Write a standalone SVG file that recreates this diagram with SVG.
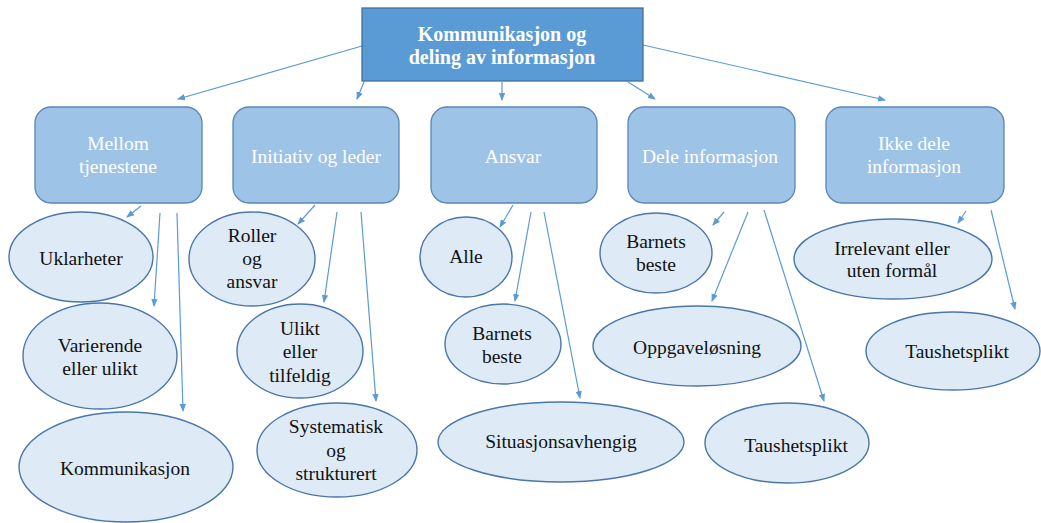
<svg xmlns="http://www.w3.org/2000/svg" width="1041" height="523" viewBox="0 0 1041 523" font-family="'Liberation Serif', 'DejaVu Serif', serif">
  <style>
    .top { fill: #5b9bd5; stroke: #41719c; stroke-width: 1.3; }
    .cat { fill: #9dc3e6; stroke: #5a86b6; stroke-width: 1.3; }
    .leaf { fill: #deebf7; stroke: #4a76a8; stroke-width: 1.4; }
    .link { stroke: #5b9bd5; stroke-width: 1.2; fill: none; marker-end: url(#arrow); }
    text { font-family: "Liberation Serif", "DejaVu Serif", serif; font-size: 19.5px; text-anchor: middle; }
    .title { fill: #ffffff; font-weight: bold; font-size: 20px; }
    .catText { fill: #ffffff; }
    .leafText { fill: #111111; }
  </style>
  <defs>
    <marker id="arrow" markerUnits="userSpaceOnUse" markerWidth="8" markerHeight="8" viewBox="0 0 8 8" refX="7" refY="4" orient="auto">
      <path d="M0,0.8 L8,4 L0,7.2 Z" fill="#5b9bd5"/>
    </marker>
  </defs>

  <rect width="1041" height="523" fill="#ffffff"/>

  <!-- connectors -->
  <g id="connectors">
    <line class="link" x1="362" y1="46" x2="178" y2="99"/>
    <line class="link" x1="364" y1="82" x2="357" y2="99"/>
    <line class="link" x1="502" y1="82" x2="502" y2="100"/>
    <line class="link" x1="628" y1="82" x2="655" y2="99"/>
    <line class="link" x1="643" y1="45" x2="885" y2="100"/>

    <line class="link" x1="141" y1="206" x2="127" y2="217"/>
    <line class="link" x1="160" y1="213" x2="154" y2="306"/>
    <line class="link" x1="177" y1="213" x2="183" y2="411"/>

    <line class="link" x1="315" y1="205" x2="298" y2="224"/>
    <line class="link" x1="337" y1="212" x2="324" y2="302"/>
    <line class="link" x1="361" y1="212" x2="376" y2="401"/>

    <line class="link" x1="513" y1="205" x2="500" y2="227"/>
    <line class="link" x1="531" y1="212" x2="515" y2="301"/>
    <line class="link" x1="544" y1="212" x2="580" y2="398"/>

    <line class="link" x1="724" y1="212" x2="713" y2="225"/>
    <line class="link" x1="748" y1="212" x2="712" y2="301"/>
    <line class="link" x1="764" y1="210" x2="824" y2="401"/>

    <line class="link" x1="966" y1="211" x2="958" y2="223"/>
    <line class="link" x1="991" y1="210" x2="1015" y2="309"/>
  </g>

  <!-- root -->
  <g id="root">
    <rect class="top" x="362" y="8" width="281" height="73"/>
    <text class="title" x="502" y="41">Kommunikasjon og</text>
    <text class="title" x="502" y="64">deling av informasjon</text>
  </g>

  <!-- categories -->
  <g id="cat-mellom">
    <rect class="cat" x="35" y="107" width="167" height="96" rx="16"/>
    <text class="catText" x="118" y="150">Mellom</text>
    <text class="catText" x="118" y="173">tjenestene</text>
  </g>
  <g id="cat-initiativ">
    <rect class="cat" x="233" y="107" width="166" height="96" rx="16"/>
    <text class="catText" x="316" y="163">Initiativ og leder</text>
  </g>
  <g id="cat-ansvar">
    <rect class="cat" x="431" y="107" width="166" height="96" rx="16"/>
    <text class="catText" x="513" y="163">Ansvar</text>
  </g>
  <g id="cat-dele">
    <rect class="cat" x="628" y="107" width="167" height="96" rx="16"/>
    <text class="catText" x="710" y="163">Dele informasjon</text>
  </g>
  <g id="cat-ikke-dele">
    <rect class="cat" x="826" y="107" width="178" height="96" rx="16"/>
    <text class="catText" x="914" y="150">Ikke dele</text>
    <text class="catText" x="914" y="173">informasjon</text>
  </g>

  <!-- leaves: Mellom tjenestene -->
  <g id="leaf-uklarheter">
    <ellipse class="leaf" cx="81" cy="257" rx="72" ry="45"/>
    <text class="leafText" x="81" y="265">Uklarheter</text>
  </g>
  <g id="leaf-varierende">
    <ellipse class="leaf" cx="100" cy="356" rx="77" ry="53"/>
    <text class="leafText" x="100" y="352">Varierende</text>
    <text class="leafText" x="100" y="375">eller ulikt</text>
  </g>
  <g id="leaf-kommunikasjon">
    <ellipse class="leaf" cx="126" cy="467" rx="107" ry="55"/>
    <text class="leafText" x="125" y="475">Kommunikasjon</text>
  </g>

  <!-- leaves: Initiativ og leder -->
  <g id="leaf-roller">
    <ellipse class="leaf" cx="252" cy="259" rx="63" ry="47"/>
    <text class="leafText" x="252" y="242">Roller</text>
    <text class="leafText" x="252" y="265">og</text>
    <text class="leafText" x="252" y="288">ansvar</text>
  </g>
  <g id="leaf-ulikt">
    <ellipse class="leaf" cx="300" cy="351" rx="63" ry="47"/>
    <text class="leafText" x="300" y="335">Ulikt</text>
    <text class="leafText" x="300" y="358">eller</text>
    <text class="leafText" x="300" y="382">tilfeldig</text>
  </g>
  <g id="leaf-systematisk">
    <ellipse class="leaf" cx="337" cy="450" rx="80" ry="47"/>
    <text class="leafText" x="336" y="433">Systematisk</text>
    <text class="leafText" x="336" y="457">og</text>
    <text class="leafText" x="336" y="480">strukturert</text>
  </g>

  <!-- leaves: Ansvar -->
  <g id="leaf-alle">
    <ellipse class="leaf" cx="466" cy="257" rx="46" ry="40"/>
    <text class="leafText" x="466" y="263">Alle</text>
  </g>
  <g id="leaf-barnets-ansvar">
    <ellipse class="leaf" cx="503" cy="344" rx="58" ry="40"/>
    <text class="leafText" x="502" y="340">Barnets</text>
    <text class="leafText" x="502" y="363">beste</text>
  </g>
  <g id="leaf-situasjon">
    <ellipse class="leaf" cx="561" cy="442" rx="123" ry="40"/>
    <text class="leafText" x="561" y="448">Situasjonsavhengig</text>
  </g>

  <!-- leaves: Dele informasjon -->
  <g id="leaf-barnets-dele">
    <ellipse class="leaf" cx="656" cy="253" rx="56" ry="40"/>
    <text class="leafText" x="656" y="248">Barnets</text>
    <text class="leafText" x="656" y="271">beste</text>
  </g>
  <g id="leaf-oppgave">
    <ellipse class="leaf" cx="697" cy="346" rx="104" ry="40"/>
    <text class="leafText" x="697" y="354">Oppgaveløsning</text>
  </g>
  <g id="leaf-taushet-dele">
    <ellipse class="leaf" cx="787" cy="443" rx="82" ry="40"/>
    <text class="leafText" x="796" y="452">Taushetsplikt</text>
  </g>

  <!-- leaves: Ikke dele informasjon -->
  <g id="leaf-irrelevant">
    <ellipse class="leaf" cx="893" cy="259" rx="99" ry="40"/>
    <text class="leafText" x="892" y="255">Irrelevant eller</text>
    <text class="leafText" x="892" y="277">uten formål</text>
  </g>
  <g id="leaf-taushet-ikke">
    <ellipse class="leaf" cx="953" cy="351" rx="87" ry="39"/>
    <text class="leafText" x="957" y="358">Taushetsplikt</text>
  </g>
</svg>
